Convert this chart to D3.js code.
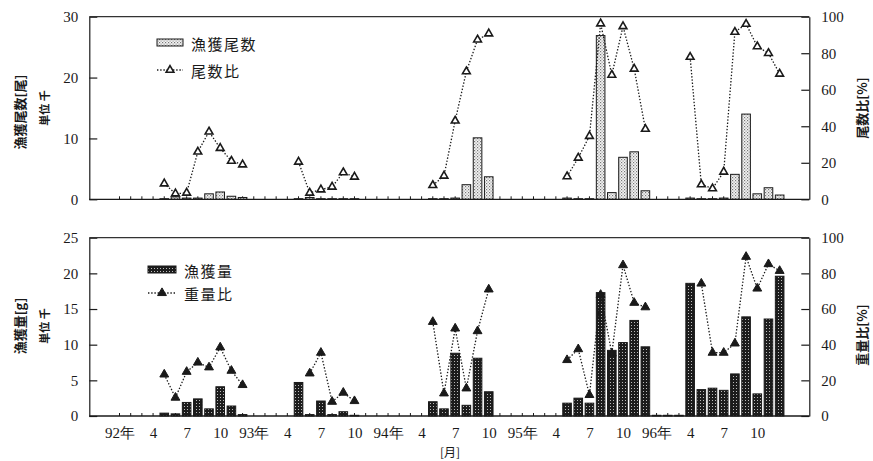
<!DOCTYPE html>
<html>
<head>
<meta charset="utf-8">
<script src="https://cdn.jsdelivr.net/npm/d3@7"></script>
<style>
  body { margin: 0; background: #fff; }
  .num { font-family: "Liberation Serif", "DejaVu Serif", serif; font-size: 15px; fill: #1a1a1a; }
  .jp  { font-family: "Noto Sans CJK JP", sans-serif; fill: #1a1a1a; }
</style>
</head>
<body>
<svg id="chart" width="873" height="461"></svg>
<script>
// Month index: 0 = January 1992
const tickMonths = [0, 3, 6, 9, 12, 15, 18, 21, 24, 27, 30, 33, 36, 39, 42, 45, 48, 51, 54, 57];
const tickLabels = ["92年", "4", "7", "10", "93年", "4", "7", "10", "94年", "4", "7", "10",
                    "95年", "4", "7", "10", "96年", "4", "7", "10"];

// 漁獲尾数 (千尾)
const countMonths = [4, 5, 6, 7, 8, 9, 10, 11,
                     16, 17, 18, 19, 20, 21,
                     28, 29, 30, 31, 32, 33,
                     40, 41, 42, 43, 44, 45, 46, 47,
                     51, 52, 53, 54, 55, 56, 57, 58, 59];
const countValues = [0.1, 0.4, 0.2, 0.2, 0.9, 1.2, 0.5, 0.3,
                     0.1, 0.3, 0.1, 0.1, 0.1, 0.1,
                     0.1, 0.1, 0.2, 2.4, 10.1, 3.7,
                     0.2, 0.1, 0.1, 26.9, 1.1, 6.9, 7.8, 1.4,
                     0.2, 0.1, 0.1, 0.2, 4.1, 14.0, 0.9, 1.9, 0.7];

// 尾数比 (%)
const countRatioMonths = [4, 5, 6, 7, 8, 9, 10, 11,
                          16, 17, 18, 19, 20, 21,
                          28, 29, 30, 31, 32, 33,
                          40, 41, 42, 43, 44, 45, 46, 47,
                          51, 52, 53, 54, 55, 56, 57, 58, 59];
const countRatioValues = [8.6, 3.1, 3.5, 26, 37, 28, 21, 19,
                          20.5, 3.5, 5.3, 6.8, 14.7, 12.3,
                          7.7, 12.8, 43, 70, 87.4, 90.7,
                          12.5, 22.7, 34.6, 96.2, 68.1, 94.7, 71.4, 38.5,
                          77.9, 8.1, 5.9, 15, 91.6, 96, 83.7, 80, 68.7];

// 漁獲量 (千g)
const weightMonths = [4, 5, 6, 7, 8, 9, 10, 11,
                      16, 17, 18, 19, 20, 21,
                      28, 29, 30, 31, 32, 33,
                      40, 41, 42, 43, 44, 45, 46, 47,
                      48, 49, 50, 51, 52, 53, 54, 55, 56, 57, 58, 59];
const weightValues = [0.4, 0.3, 1.9, 2.4, 1.0, 4.1, 1.4, 0.2,
                      4.7, 0.2, 2.1, 0.2, 0.6, 0.1,
                      2.0, 1.0, 8.8, 1.5, 8.1, 3.4,
                      1.8, 2.5, 1.8, 17.3, 9.2, 10.3, 13.4, 9.7,
                      0.1, 0.1, 0.1, 18.6, 3.7, 3.9, 3.6, 5.9, 13.9, 3.1, 13.6, 19.6];

// 重量比 (%)
const weightRatioMonths = [4, 5, 6, 7, 8, 9, 10, 11,
                           17, 18, 19, 20, 21,
                           28, 29, 30, 31, 32, 33,
                           40, 41, 42, 43, 44, 45, 46, 47,
                           52, 53, 54, 55, 56, 57, 58, 59];
const weightRatioValues = [23.3, 10.3, 24.8, 30, 27.3, 38.5, 25.4, 17.4,
                           23.9, 35.5, 8.0, 13.1, 8.4,
                           52.8, 12.7, 49.1, 15.5, 47.6, 71.0,
                           31.4, 37.5, 11.8, 68, 35.1, 84.6, 63.5, 61,
                           74.3, 35.5, 35.5, 40.7, 89.3, 71.5, 85.2, 81.4];

const svg = d3.select("#chart");
const ink = "#1a1a1a";

// fill patterns for the two bar series
const defs = svg.append("defs");
const pLight = defs.append("pattern").attr("id", "light")
  .attr("width", 3).attr("height", 3).attr("patternUnits", "userSpaceOnUse");
pLight.append("rect").attr("width", 3).attr("height", 3).attr("fill", "#f4f4f4");
pLight.append("rect").attr("x", 0).attr("y", 0).attr("width", 1.2).attr("height", 1.2).attr("fill", "#777");
pLight.append("rect").attr("x", 1.5).attr("y", 1.5).attr("width", 1.2).attr("height", 1.2).attr("fill", "#999");
const pDark = defs.append("pattern").attr("id", "dark")
  .attr("width", 3).attr("height", 3).attr("patternUnits", "userSpaceOnUse");
pDark.append("rect").attr("width", 3).attr("height", 3).attr("fill", "#1c1c1c");
pDark.append("rect").attr("x", 1).attr("y", 1).attr("width", 1).attr("height", 1).attr("fill", "#bbb");

const left = 89.3, right = 809.3;
const x = d3.scaleLinear().domain([-2.7, 61.65]).range([left, right]);
const barW = 8.6;
const allMonths = d3.range(0, 60);

function zip(ms, vs) { return ms.map((m, i) => ({ m, v: vs[i] })); }
function segments(data) {
  const segs = [];
  data.forEach((d, i) => {
    if (i === 0 || d.m - data[i - 1].m > 1) segs.push([]);
    segs[segs.length - 1].push(d);
  });
  return segs;
}

function panel(cfg) {
  const g = svg.append("g");
  const yL = d3.scaleLinear().domain([0, cfg.leftMax]).range([cfg.bottom, cfg.top]);
  const yR = d3.scaleLinear().domain([0, 100]).range([cfg.bottom, cfg.top]);

  // month ticks along the baseline
  g.append("g").selectAll("line").data(allMonths).join("line")
    .attr("x1", d => x(d)).attr("x2", d => x(d))
    .attr("y1", cfg.bottom).attr("y2", cfg.bottom - 3)
    .attr("stroke", ink).attr("stroke-width", 1);

  // bars
  g.append("g").selectAll("rect").data(zip(cfg.barMonths, cfg.barValues)).join("rect")
    .attr("x", d => x(d.m) - barW / 2).attr("width", barW)
    .attr("y", d => yL(d.v)).attr("height", d => yL(0) - yL(d.v))
    .attr("fill", `url(#${cfg.pattern})`)
    .attr("stroke", ink).attr("stroke-width", 1);

  // left axis
  const ax = g.append("g").attr("transform", `translate(${left},0)`)
    .call(d3.axisLeft(yL).tickValues(cfg.leftTicks).tickSize(-8).tickSizeOuter(0).tickPadding(11)
      .tickFormat(d3.format("d")));
  ax.selectAll("text").attr("class", "num").attr("font-size", null).attr("font-family", null);
  ax.selectAll("line, path").attr("stroke", ink).attr("stroke-width", 1.2);

  // right axis
  const ar = g.append("g").attr("transform", `translate(${right},0)`)
    .call(d3.axisRight(yR).tickValues([0, 20, 40, 60, 80, 100]).tickSize(-8).tickSizeOuter(0).tickPadding(12)
      .tickFormat(d3.format("d")));
  ar.selectAll("text").attr("class", "num").attr("font-size", null).attr("font-family", null);
  ar.selectAll("line, path").attr("stroke", ink).attr("stroke-width", 1.2);

  // baseline and top frame
  g.append("line").attr("x1", left).attr("x2", right).attr("y1", cfg.bottom).attr("y2", cfg.bottom)
    .attr("stroke", ink).attr("stroke-width", 1.3);
  g.append("line").attr("x1", left).attr("x2", right).attr("y1", cfg.top).attr("y2", cfg.top)
    .attr("stroke", "#333").attr("stroke-width", 1.3);

  // ratio line, broken between fishing seasons
  const line = d3.line().x(d => x(d.m)).y(d => yR(d.v));
  const pts = zip(cfg.lineMonths, cfg.lineValues);
  g.append("g").selectAll("path").data(segments(pts)).join("path")
    .attr("d", line).attr("fill", "none")
    .attr("stroke", ink).attr("stroke-width", 1.3).attr("stroke-dasharray", "1.4,1.8");

  const sym = d3.symbol(d3.symbolTriangle, cfg.markerSize);
  g.append("g").selectAll("path").data(pts).join("path")
    .attr("transform", d => `translate(${x(d.m)},${yR(d.v)})`)
    .attr("d", sym)
    .attr("fill", cfg.markerFill).attr("stroke", ink).attr("stroke-width", cfg.markerStroke);

  // legend
  const lg = g.append("g");
  lg.append("rect").attr("x", cfg.legend.x).attr("y", cfg.legend.y1 - 4)
    .attr("width", cfg.legend.w).attr("height", 7)
    .attr("fill", `url(#${cfg.pattern})`).attr("stroke", ink).attr("stroke-width", 1);
  lg.append("text").attr("class", "jp").attr("x", cfg.legend.tx).attr("y", cfg.legend.y1)
    .attr("dominant-baseline", "central").attr("font-size", 15).attr("letter-spacing", 1.5)
    .text(cfg.barName);
  lg.append("line").attr("x1", cfg.legend.x).attr("x2", cfg.legend.x + cfg.legend.w)
    .attr("y1", cfg.legend.y2).attr("y2", cfg.legend.y2)
    .attr("stroke", ink).attr("stroke-width", 1.3).attr("stroke-dasharray", "1.4,1.8");
  lg.append("path").attr("transform", `translate(${cfg.legend.x + cfg.legend.w / 2},${cfg.legend.y2})`)
    .attr("d", sym).attr("fill", cfg.markerFill).attr("stroke", ink).attr("stroke-width", cfg.markerStroke);
  lg.append("text").attr("class", "jp").attr("x", cfg.legend.tx).attr("y", cfg.legend.y2)
    .attr("dominant-baseline", "central").attr("font-size", 15).attr("letter-spacing", 1.5)
    .text(cfg.lineName);

  // axis titles
  const vt = (tx, ty, txt, size) => g.append("text").attr("class", "jp")
    .attr("transform", `translate(${tx},${ty}) rotate(-90)`)
    .attr("text-anchor", "middle").attr("dominant-baseline", "central")
    .attr("font-size", size).attr("font-weight", 700).text(txt);
  vt(19, cfg.titleY, cfg.leftTitle, 13);
  vt(44, cfg.unitY, "単位 千", 11);
  vt(861, cfg.rightTitleY, cfg.rightTitle, 13);

  return { yL, yR };
}

panel({
  top: 16.7, bottom: 199.3, leftMax: 30, leftTicks: [0, 10, 20, 30],
  barMonths: countMonths, barValues: countValues, pattern: "light",
  lineMonths: countRatioMonths, lineValues: countRatioValues,
  markerSize: 26, markerFill: "#fff", markerStroke: 1.6,
  barName: "漁獲尾数", lineName: "尾数比",
  legend: { x: 157, w: 26, y1: 43, y2: 70, tx: 191 },
  leftTitle: "漁獲尾数[尾]", titleY: 112, unitY: 108,
  rightTitle: "尾数比[%]", rightTitleY: 108
});

panel({
  top: 237.7, bottom: 416, leftMax: 25, leftTicks: [0, 5, 10, 15, 20, 25],
  barMonths: weightMonths, barValues: weightValues, pattern: "dark",
  lineMonths: weightRatioMonths, lineValues: weightRatioValues,
  markerSize: 34, markerFill: ink, markerStroke: 1,
  barName: "漁獲量", lineName: "重量比",
  legend: { x: 148, w: 28, y1: 270, y2: 293, tx: 184 },
  leftTitle: "漁獲量[g]", titleY: 326, unitY: 326,
  rightTitle: "重量比[%]", rightTitleY: 335
});

// month labels under the lower panel
const xa = svg.append("g").attr("transform", "translate(0,416)")
  .call(d3.axisBottom(x).tickValues(tickMonths).tickSize(0).tickPadding(11)
    .tickFormat((d, i) => tickLabels[i]));
xa.select(".domain").remove();
xa.selectAll("text").attr("class", "num").attr("font-size", null)
  .attr("font-family", "Liberation Serif, Noto Sans CJK JP, serif");

svg.append("text").attr("class", "jp").attr("x", 450).attr("y", 451)
  .attr("text-anchor", "middle").attr("dominant-baseline", "central")
  .attr("font-size", 12).text("[月]");
</script>
</body>
</html>
